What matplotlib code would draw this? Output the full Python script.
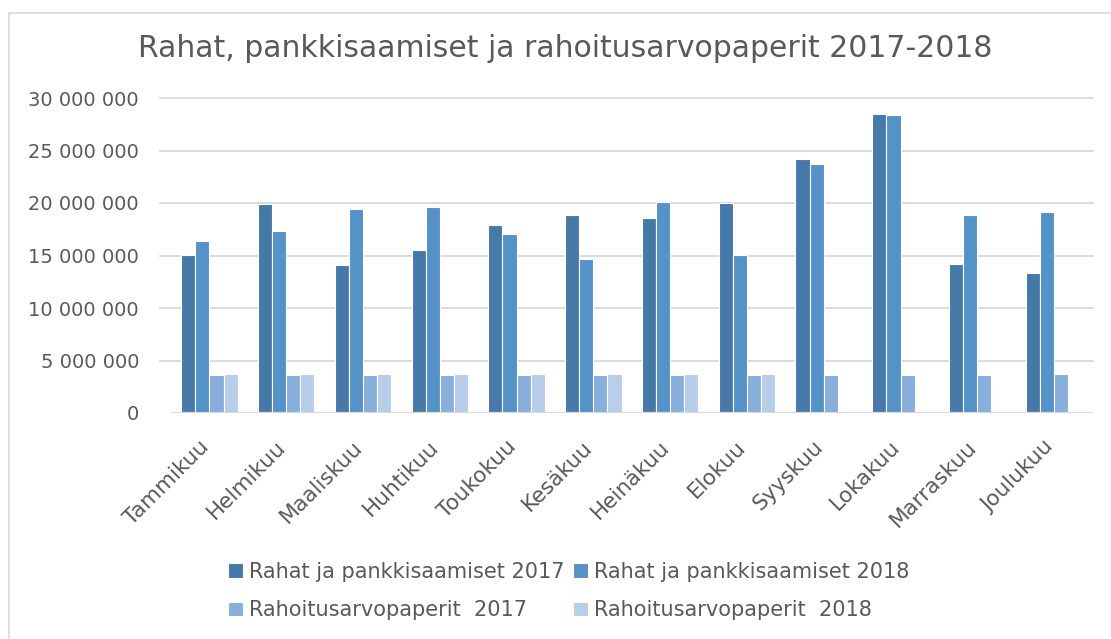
import matplotlib.pyplot as plt
from matplotlib.lines import Line2D
from matplotlib.ticker import FuncFormatter
from matplotlib.transforms import ScaledTranslation
import numpy as np

kuukaudet = ["Tammikuu", "Helmikuu", "Maaliskuu", "Huhtikuu", "Toukokuu", "Kesäkuu",
             "Heinäkuu", "Elokuu", "Syyskuu", "Lokakuu", "Marraskuu", "Joulukuu"]

rahat2017 = [15080000, 19930000, 14120000, 15550000, 17930000, 18860000,
             18570000, 20000000, 24220000, 28500000, 14190000, 13330000]
rahat2018 = [16350000, 17330000, 19460000, 19650000, 17040000, 14660000,
             20060000, 15080000, 23740000, 28380000, 18860000, 19140000]
arvopaperit2017 = [3650000, 3650000, 3650000, 3650000, 3650000, 3650000,
                   3650000, 3650000, 3650000, 3650000, 3650000, 3740000]
arvopaperit2018 = [3740000, 3740000, 3740000, 3740000, 3740000, 3740000,
                   3740000, 3740000, 50000, 50000, 50000, 50000]

sarjat = [
    (rahat2017, "Rahat ja pankkisaamiset 2017", "#4678A8"),
    (rahat2018, "Rahat ja pankkisaamiset 2018", "#5592C7"),
    (arvopaperit2017, "Rahoitusarvopaperit  2017", "#88AFDC"),
    (arvopaperit2018, "Rahoitusarvopaperit  2018", "#B8CDE9"),
]

harmaa = "#595959"
viiva = "#D9D9D9"

fig = plt.figure(figsize=(11.11, 6.39), dpi=100)
ax = fig.add_axes([171 / 1111, 1 - 413 / 639, 921.5 / 1111, 315 / 639])

x = np.arange(len(kuukaudet))
leveys = 0.184
palkit = []
for i, (arvot, nimi, vari) in enumerate(sarjat):
    b = ax.bar(x + (i - 1.5) * leveys, arvot, leveys, label=nimi, color=vari,
               edgecolor="white", linewidth=0.8, zorder=3)
    palkit.append(b)

ax.set_xlim(-0.5, len(kuukaudet) - 0.5)
ax.set_ylim(0, 30000000)
ax.set_yticks(range(0, 30000001, 5000000))
ax.yaxis.set_major_formatter(FuncFormatter(lambda v, p: "{:,}".format(int(v)).replace(",", " ")))

# gridlines reach a bit left of the plot area, like in Excel
for y in range(5000000, 30000001, 5000000):
    ax.axhline(y, xmin=-11 / 921.5, xmax=1, color=viiva, linewidth=1.3, clip_on=False, zorder=1)
ax.axhline(0, color=viiva, linewidth=1.6, zorder=4)

for s in ax.spines.values():
    s.set_visible(False)
ax.tick_params(axis="both", length=0, colors=harmaa)
ax.tick_params(axis="y", pad=23, labelsize=14)
ax.set_xticks(x)
ax.set_xticklabels(kuukaudet, rotation=45, ha="right", va="center",
                   rotation_mode="anchor", fontsize=15.5)
ax.tick_params(axis="x", pad=20)
siirto = ScaledTranslation(-4 / 100, -3 / 100, fig.dpi_scale_trans)
for lab in ax.get_xticklabels():
    lab.set_transform(lab.get_transform() + siirto)

fig.text(0.5085, 0.924, "Rahat, pankkisaamiset ja rahoitusarvopaperit 2017-2018",
         ha="center", va="center", fontsize=21.5, color=harmaa)

# Excel fills the legend row by row
jarj = [0, 2, 1, 3]
legend = fig.legend([palkit[i] for i in jarj], [sarjat[i][1] for i in jarj],
                    loc="center", bbox_to_anchor=(0.512, 0.075), ncol=2, frameon=False,
                    fontsize=15, handlelength=0.7, handleheight=0.7, handletextpad=0.3,
                    columnspacing=0.4, labelspacing=0.9)
for t in legend.get_texts():
    t.set_color(harmaa)

# chart border (only top and left edges are inside the picture)
fig.add_artist(Line2D([9 / 1111, 1.01], [1 - 13 / 639, 1 - 13 / 639], color=viiva, linewidth=1.2))
fig.add_artist(Line2D([9 / 1111, 9 / 1111], [1 - 13 / 639, -0.01], color=viiva, linewidth=1.2))

plt.savefig("out.png", dpi=100)
